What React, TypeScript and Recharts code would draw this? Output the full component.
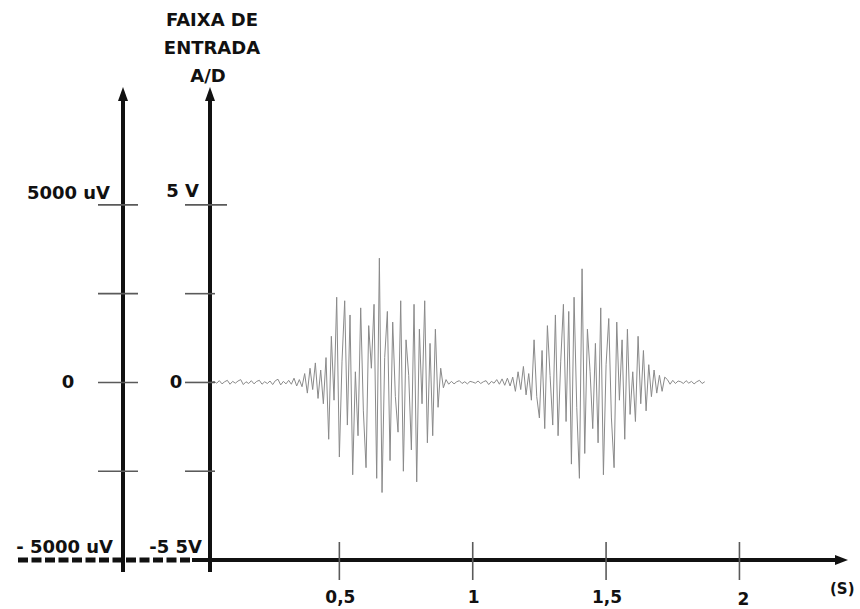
import React from 'react';
import { LineChart, Line, XAxis, YAxis } from 'recharts';

// ---- data ----
const SAMPLE_START = 0.02; // s
const SAMPLE_STEP = 0.01; // s

const baselineStart = [0, 0.03, -0.02, 0.05, -0.04, 0.02, 0.06, -0.05, 0.03, -0.02, 0.04, 0.08, -0.06, 0.02, -0.03, 0.05, -0.04, 0.03, 0.06, -0.05, 0.02, -0.03, 0.04, -0.06, 0.05, 0.09, -0.07, 0.03, -0.04, 0.06, -0.05, 0.12, -0.1, 0.08, -0.12];
const burst1Onset = [0.25, -0.3, 0.4, -0.2, 0.55, -0.45, 0.35, -0.6, 0.7];
const burst1 = [-1.6, 1.3, -0.5, 2.4, -2.1, 0.6, 2.3, -1.2, 1.9, -2.6, 0.3, -1.5, 2.1, -0.8, -2.4, 1.6, 0.4, 2.2, -2.7, 3.5, -3.1, 0.7, 2.0, -2.2, 1.7, -0.4, -1.4, 2.3, -2.5, 1.2, 0.2, -1.9, 2.2, -2.8, 1.5, -0.6, 2.3, -1.7, 1.1, -1.5, 1.5, -0.7];
const interBurst = [0.4, -0.15, 0.08, -0.05, 0.03, -0.04, 0.02, 0.05, -0.03, 0.02, -0.04, 0.03, 0.01, -0.02, 0.04, -0.03, 0.02, 0.05, -0.06, 0.03, -0.02, 0.08, -0.05, 0.1, -0.08, 0.12, -0.1, 0.15];
const burst2Onset = [-0.25, 0.3, -0.2, 0.45, -0.35, 0.25, -0.5];
const burst2 = [1.2, -0.4, -1.0, 0.9, -1.3, 1.6, 0.2, -1.2, 1.9, -1.5, 0.6, 2.2, -1.1, 2.0, -2.3, 2.4, -0.7, -2.7, 3.2, -2.0, 1.5, 0.3, -1.3, 1.1, -1.7, 2.1, -2.6, 0.5, 1.8, -1.0, -2.4, 1.7, -0.5, 1.2, -1.6, 1.5, -0.9, 0.3, -1.1, 1.3, -0.6, 0.9, -0.8, 0.5, -0.4, 0.35, -0.3, 0.2, -0.25, 0.15];
const tail = [0.08, -0.05, 0.06, -0.03, 0.04, 0.02, -0.03, 0.05, -0.02, 0.03, -0.04, 0.02, 0.06, -0.03, 0.02];

const signalValues = [...baselineStart, ...burst1Onset, ...burst1, ...interBurst, ...burst2Onset, ...burst2, ...tail];

const timeTicks = [0.5, 1, 1.5, 2];
const voltTicks = [5, 2.5, 0, -2.5, -5];
const adcTickLabels: Record<string, string> = { '5': '5 V', '0': '0', '-5': '-5 5V' };
const uvTickLabels: Record<string, string> = { '5': '5000 uV', '0': '0', '-5': '- 5000 uV' };
const titleLines = ['FAIXA DE', 'ENTRADA', 'A/D'];
const timeUnit = '(S)';

const data = signalValues.map((v, i) => ({ t: +(SAMPLE_START + i * SAMPLE_STEP).toFixed(3), v }));

// ---- styles ----
const FONT = '"DejaVu Sans", sans-serif';
const INK = '#111';
const TICK = '#5a5a5a';

type LabelPos = { dx: number; dy: number; anchor: 'start' | 'middle' | 'end' };
type AxisStyle = {
  labels: Record<string, string>;
  top: LabelPos; zero: LabelPos; bottom: LabelPos;
  tickLeft: number; tickRight: number; topTickRight: number;
};

const uvStyle: AxisStyle = {
  labels: uvTickLabels,
  top: { dx: -13, dy: -6, anchor: 'end' },
  zero: { dx: -55, dy: 6, anchor: 'middle' },
  bottom: { dx: -10, dy: -7, anchor: 'end' },
  tickLeft: 25, tickRight: 15, topTickRight: 15,
};
const adcStyle: AxisStyle = {
  labels: adcTickLabels,
  top: { dx: -11, dy: -8, anchor: 'end' },
  zero: { dx: -34, dy: 6, anchor: 'middle' },
  bottom: { dx: -8, dy: -7, anchor: 'end' },
  tickLeft: 25, tickRight: 5, topTickRight: 17,
};

const makeYTick = (st: AxisStyle) => (props: any) => {
  const { x, y, payload } = props;
  const v = payload.value;
  const label = st.labels[String(v)];
  const pos = v > 0 ? st.top : v < 0 ? st.bottom : st.zero;
  const isTop = v === Math.max(...voltTicks);
  const isBottom = v === Math.min(...voltTicks);
  return (
    <g>
      {!isBottom && (
        <line x1={x - st.tickLeft} x2={x + (isTop ? st.topTickRight : st.tickRight)} y1={y} y2={y} stroke={TICK} strokeWidth={1.6} />
      )}
      {label && (
        <text x={x + pos.dx} y={y + pos.dy} textAnchor={pos.anchor} fontFamily={FONT} fontWeight="bold" fontSize={18} fill={INK}>
          {label}
        </text>
      )}
    </g>
  );
};

const XTick = (props: any) => {
  const { x, y, payload, index } = props;
  const label = String(payload.value).replace('.', ',');
  const last = index === timeTicks.length - 1;
  return (
    <g>
      <line x1={x} x2={x} y1={y - 18} y2={y + 20} stroke={TICK} strokeWidth={1.6} />
      <text x={x + (last ? 4 : 1)} y={y + (last ? 45 : 43)} textAnchor="middle" fontFamily={FONT} fontWeight="bold" fontSize={17} fill={INK}>
        {label}
      </text>
    </g>
  );
};

const makeYAxisDecor = (withTitle: boolean) => (props: any) => {
  const vb = props.viewBox || {};
  const lx = vb.x + vb.width;
  const top = vb.y;
  const bottom = vb.y + vb.height + 12;
  return (
    <g>
      <line x1={lx} x2={lx} y1={top + 10} y2={bottom} stroke={INK} strokeWidth={4} />
      <polygon points={`${lx},${top} ${lx - 5},${top + 14} ${lx + 5},${top + 14}`} fill={INK} />
      {withTitle &&
        titleLines.map((line, i) => (
          <text key={line} x={lx + (i === titleLines.length - 1 ? -2 : 2)} y={top - 61 + i * 28}
            textAnchor="middle" fontFamily={FONT} fontWeight="bold" fontSize={18} fill={INK}>
            {line}
          </text>
        ))}
    </g>
  );
};

const XAxisDecor = (props: any) => {
  const vb = props.viewBox || {};
  const { x, y, width } = vb;
  const end = x + width;
  return (
    <g>
      <line x1={18} x2={x - 18} y1={y} y2={y} stroke={INK} strokeWidth={5} strokeDasharray="10 3.5" />
      <line x1={x - 18} x2={end - 10} y1={y} y2={y} stroke={INK} strokeWidth={4} />
      <polygon points={`${end},${y} ${end - 13},${y - 5} ${end - 13},${y + 5}`} fill={INK} />
      <text x={end - 18} y={y + 34} textAnchor="start" fontFamily={FONT} fontWeight="bold" fontSize={15} fill={INK}>
        {timeUnit}
      </text>
    </g>
  );
};

export default function App() {
  return (
    <div style={{ position: 'absolute', left: 0, top: 0, width: 860, height: 609, background: '#fff' }}>
      <LineChart width={860} height={609} data={data} margin={{ top: 87, right: 12, bottom: 0, left: 0 }}>
        <XAxis
          dataKey="t"
          type="number"
          domain={[0.015, 2.407]}
          allowDataOverflow
          ticks={timeTicks}
          interval={0}
          height={49}
          axisLine={false}
          tickLine={false}
          tickSize={0}
          tickMargin={0}
          tick={<XTick />}
          label={XAxisDecor}
        />
        <YAxis
          yAxisId="adc"
          type="number"
          domain={[-5, 8.32]}
          allowDataOverflow
          ticks={voltTicks}
          interval={0}
          width={87}
          axisLine={false}
          tickLine={false}
          tickSize={0}
          tickMargin={0}
          tick={makeYTick(adcStyle)}
          label={makeYAxisDecor(true)}
        />
        <YAxis
          yAxisId="uv"
          type="number"
          domain={[-5, 8.32]}
          allowDataOverflow
          ticks={voltTicks}
          interval={0}
          width={123}
          axisLine={false}
          tickLine={false}
          tickSize={0}
          tickMargin={0}
          tick={makeYTick(uvStyle)}
          label={makeYAxisDecor(false)}
        />
        <Line
          yAxisId="adc"
          dataKey="v"
          type="linear"
          stroke="#8a8a8a"
          strokeWidth={1}
          dot={false}
          isAnimationActive={false}
        />
      </LineChart>
    </div>
  );
}
